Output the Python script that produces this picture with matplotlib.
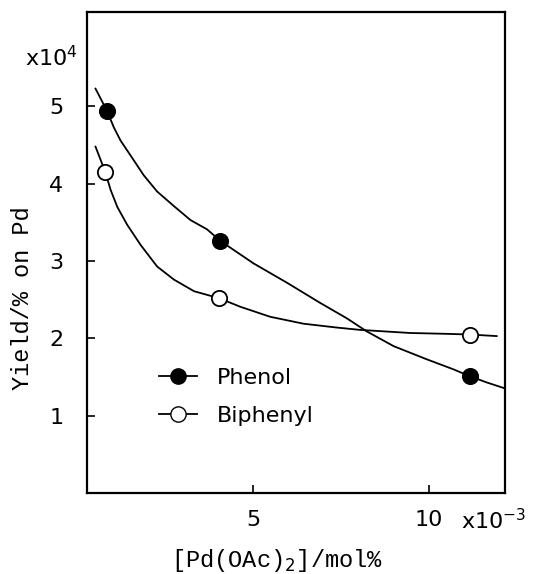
import matplotlib.pyplot as plt
from matplotlib.lines import Line2D

# measured points (x in 10^-3 mol%, y in 10^4 %)
phenol_x = [0.85, 4.07, 11.16]
phenol_y = [4.94, 3.26, 1.51]
biphenyl_x = [0.80, 4.03, 11.16]
biphenyl_y = [4.15, 2.52, 2.05]

# hand-drawn curves
phenol_curve_x = [0.52, 0.85, 1.04, 1.23, 1.51, 1.89, 2.27, 2.75, 3.22, 3.69, 4.07,
                  5.01, 5.96, 6.90, 7.66, 8.23, 8.99, 9.93, 10.69, 11.16, 11.64, 12.11]
phenol_curve_y = [5.23, 4.94, 4.73, 4.56, 4.37, 4.11, 3.90, 3.71, 3.53, 3.41, 3.26,
                  2.97, 2.72, 2.46, 2.26, 2.09, 1.90, 1.73, 1.60, 1.51, 1.43, 1.36]
biphenyl_curve_x = [0.52, 0.80, 0.95, 1.14, 1.42, 1.80, 2.27, 2.75, 3.32, 4.03,
                    4.63, 5.48, 6.43, 7.38, 8.04, 9.46, 10.41, 11.16, 11.92]
biphenyl_curve_y = [4.48, 4.15, 3.92, 3.70, 3.47, 3.21, 2.93, 2.76, 2.61, 2.52,
                    2.41, 2.28, 2.19, 2.14, 2.11, 2.07, 2.06, 2.05, 2.03]

xticks = [5, 10]
yticks = [1, 2, 3, 4, 5]

fig = plt.figure(figsize=(5.34, 5.74), dpi=100)
ax = fig.add_axes([0.163, 0.141, 0.783, 0.838])

ax.plot(phenol_curve_x, phenol_curve_y, color='black', lw=1.3, solid_joinstyle='round')
ax.plot(biphenyl_curve_x, biphenyl_curve_y, color='black', lw=1.3, solid_joinstyle='round')
ax.plot(phenol_x, phenol_y, 'o', color='black', ms=11, mfc='black', mew=1.3)
ax.plot(biphenyl_x, biphenyl_y, 'o', color='black', ms=11, mfc='white', mew=1.3)

ax.set_xlim(0.28, 12.16)
ax.set_ylim(0, 6.22)
ax.set_xticks(xticks)
ax.set_yticks(yticks)
ax.tick_params(direction='in', length=6, width=1.2, labelsize=16)
ax.tick_params(axis='y', pad=17)
ax.tick_params(axis='x', pad=12)
for s in ax.spines.values():
    s.set_linewidth(1.6)

ax.set_ylabel('Yield/% on Pd', family='Liberation Mono', fontsize=17)
ax.yaxis.set_label_coords(-0.128, 0.405)
ax.set_xlabel(r'[Pd(OAc)$_2$]/mol%', family='Liberation Mono', fontsize=17)
ax.xaxis.set_label_coords(0.454, -0.112)

ax.text(-0.022, 0.905, r'x10$^4$', transform=ax.transAxes, ha='right', va='center', fontsize=16)
ax.text(1.05, -0.058, r'x10$^{-3}$', transform=ax.transAxes, ha='right', va='center', fontsize=16)

handles = [
    Line2D([], [], color='black', lw=1.3, marker='o', ms=11, mfc='black'),
    Line2D([], [], color='black', lw=1.3, marker='o', ms=11, mfc='white'),
]
ax.legend(handles, ['Phenol', 'Biphenyl'], loc='center left', bbox_to_anchor=(0.125, 0.2),
          frameon=False, fontsize=16, handlelength=1.7, handletextpad=0.9, labelspacing=0.8)

fig.savefig('out.png', dpi=100)
